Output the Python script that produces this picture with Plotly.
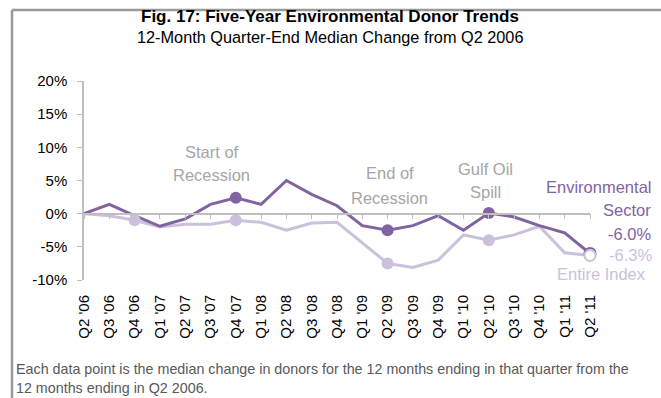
import plotly.graph_objects as go

# Quarter-end labels and median 12-month donor change (%) vs. Q2 2006
quarters = ["Q2 '06", "Q3 '06", "Q4 '06", "Q1 '07", "Q2 '07", "Q3 '07", "Q4 '07",
            "Q1 '08", "Q2 '08", "Q3 '08", "Q4 '08", "Q1 '09", "Q2 '09", "Q3 '09",
            "Q4 '09", "Q1 '10", "Q2 '10", "Q3 '10", "Q4 '10", "Q1 '11", "Q2 '11"]
environmental = [0.0, 1.4, -0.3, -1.9, -0.8, 1.4, 2.4, 1.4, 5.0, 2.9, 1.2,
                 -1.8, -2.5, -1.8, -0.3, -2.5, 0.1, -0.5, -1.8, -2.9, -6.0]
entire_index = [0.0, -0.3, -1.0, -2.0, -1.6, -1.6, -1.0, -1.3, -2.5, -1.4, -1.3,
                -4.4, -7.5, -8.1, -7.0, -3.2, -4.0, -3.2, -1.9, -5.9, -6.3]

# Quarters highlighted with a dot on each series
env_marks = ["Q4 '07", "Q2 '09", "Q2 '10"]
idx_marks = ["Q4 '06", "Q4 '07", "Q2 '09", "Q2 '10"]

y_ticks = [-10, -5, 0, 5, 10, 15, 20]
y_tick_text = ["-10%", "-5%", "0%", "5%", "10%", "15%", "20%"]

DARK = "#8064A2"
LIGHT = "#CCC1DA"
GREY_TXT = "#A6A6A6"
FONT = "Liberation Sans, Arial, sans-serif"

W, H = 661, 398
L, R, T, B = 84, 71, 81, 118

def px_x(p):
    return (p - L) / (W - L - R)

def px_y(p):
    return (H - B - p) / (H - T - B)

xs = list(range(len(quarters)))
pos = {q: i for i, q in enumerate(quarters)}

fig = go.Figure()

# Series lines
fig.add_trace(go.Scatter(x=xs, y=entire_index, mode="lines",
                         line=dict(color=LIGHT, width=3), hoverinfo="skip",
                         showlegend=False, cliponaxis=False))
fig.add_trace(go.Scatter(x=xs, y=environmental, mode="lines",
                         line=dict(color=DARK, width=3), hoverinfo="skip",
                         showlegend=False, cliponaxis=False))

# Highlight dots
fig.add_trace(go.Scatter(x=[pos[q] for q in env_marks],
                         y=[environmental[pos[q]] for q in env_marks],
                         mode="markers", marker=dict(color=DARK, size=12),
                         showlegend=False, cliponaxis=False))
fig.add_trace(go.Scatter(x=[pos[q] for q in idx_marks],
                         y=[entire_index[pos[q]] for q in idx_marks],
                         mode="markers", marker=dict(color=LIGHT, size=12),
                         showlegend=False, cliponaxis=False))

# Latest-quarter open circles
fig.add_trace(go.Scatter(x=[xs[-1]], y=[environmental[-1]], mode="markers",
                         marker=dict(color="white", size=11,
                                     line=dict(color=DARK, width=2)),
                         showlegend=False, cliponaxis=False))
fig.add_trace(go.Scatter(x=[xs[-1]], y=[entire_index[-1]], mode="markers",
                         marker=dict(color="white", size=11,
                                     line=dict(color=LIGHT, width=2)),
                         showlegend=False, cliponaxis=False))

# Invisible trace carrying the zero-line category axis
fig.add_trace(go.Scatter(x=xs, y=environmental, xaxis="x2", mode="markers",
                         marker=dict(opacity=0), hoverinfo="skip",
                         showlegend=False))

axis_grey = "#BFBFBF"
fig.update_layout(
    width=W, height=H,
    margin=dict(l=L, r=R, t=T, b=B, pad=0),
    paper_bgcolor="white", plot_bgcolor="white",
    font=dict(family=FONT, color="black"),
    xaxis=dict(range=[0, len(quarters) - 1], tickmode="array", tickvals=xs,
               ticktext=quarters, tickangle=-90, showgrid=False,
               zeroline=False, showline=False, ticks="",
               ticklabelstandoff=11, tickfont=dict(size=15, family=FONT)),
    xaxis2=dict(range=[0, len(quarters) - 1], overlaying="x", anchor="free",
                position=10 / 30, tickmode="array", tickvals=xs,
                showticklabels=False, showgrid=False, zeroline=False,
                showline=True, linecolor=axis_grey, linewidth=1.5,
                ticks="outside", ticklen=5, tickcolor=axis_grey, tickwidth=1),
    yaxis=dict(range=[-10, 20], tickmode="array", tickvals=y_ticks,
               ticktext=y_tick_text, showgrid=False, zeroline=False,
               showline=True, linecolor=axis_grey, linewidth=1.5,
               ticks="outside", ticklen=5, tickcolor=axis_grey,
               ticklabelstandoff=7, tickfont=dict(size=15, family=FONT)),
)

# Chart frame (top and left rules)
frame = dict(color="#999999", width=2.5)
fig.add_shape(type="line", xref="paper", yref="paper",
              x0=px_x(12), y0=px_y(10), x1=px_x(W + 2), y1=px_y(10), line=frame)
fig.add_shape(type="line", xref="paper", yref="paper",
              x0=px_x(12), y0=px_y(10), x1=px_x(12), y1=px_y(H + 2), line=frame)

def note(text, x, y, size=16.5, color=GREY_TXT, xanchor="center", ref="data",
         bold=False):
    if bold:
        text = "<b>" + text + "</b>"
    fig.add_annotation(text=text, x=x, y=y,
                       xref="x" if ref == "data" else "paper",
                       yref="y" if ref == "data" else "paper",
                       xanchor=xanchor, yanchor="middle", showarrow=False,
                       font=dict(size=size, color=color, family=FONT))

# Titles
note("Fig. 17: Five-Year Environmental Donor Trends", px_x(330), px_y(17),
     size=17, color="black", ref="paper", bold=True)
note("12-Month Quarter-End Median Change from Q2 2006", px_x(330), px_y(37),
     size=16.3, color="black", ref="paper")

# Event call-outs
note("Start of", 5.05, 9.35)
note("Recession", 5.05, 5.9)
note("End of", 12.08, 6.15)
note("Recession", 12.08, 2.4)
note("Gulf Oil", 15.88, 6.75)
note("Spill", 15.88, 3.2)

# Series end labels (right of the plotting area)
note("Environmental", px_x(653), px_y(187), color=DARK, xanchor="right", ref="paper")
note("Sector", px_x(653), px_y(210), color=DARK, xanchor="right", ref="paper")
note(f"{environmental[-1]:.1f}%", px_x(653), px_y(234), color=DARK,
     xanchor="right", ref="paper")
note(f"{entire_index[-1]:.1f}%", px_x(654), px_y(255), color=LIGHT,
     xanchor="right", ref="paper")
note("Entire Index", px_x(648), px_y(274), color=LIGHT, xanchor="right",
     ref="paper")

# Footnote
for text, py in [("Each data point is the median change in donors for the 12 months "
                  "ending in that quarter from the", 369),
                 ("12 months ending in Q2 2006.", 388)]:
    fig.add_annotation(text=text, x=px_x(14), y=px_y(py), xref="paper",
                       yref="paper", xanchor="left", yanchor="middle",
                       showarrow=False,
                       font=dict(size=14.3, color="#595959", family=FONT))

fig.write_html("out.html")
